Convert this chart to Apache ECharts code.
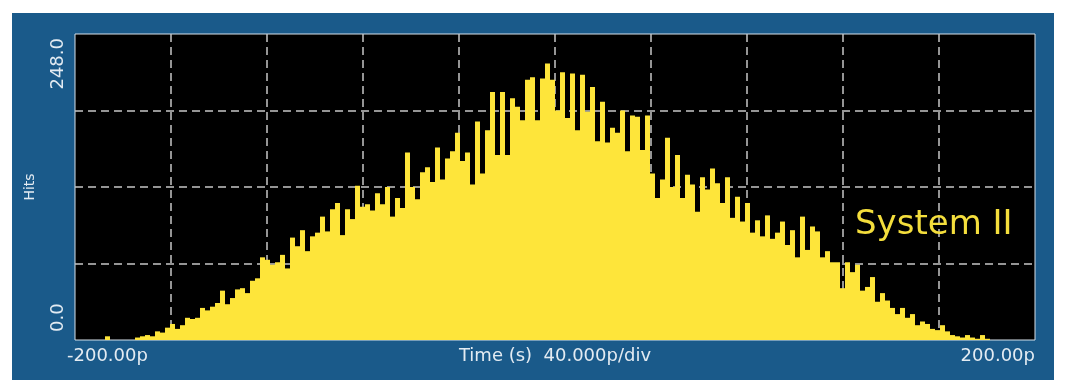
<!DOCTYPE html>
<html><head><meta charset="utf-8">
<script src="https://cdn.jsdelivr.net/npm/echarts@6/dist/echarts.min.js"></script>
<style>
html,body{margin:0;padding:0;background:#fff;width:1065px;height:390px;overflow:hidden;}
#panel{position:absolute;left:12px;top:13px;width:1042px;height:367px;background:#1a5a8a;}
#chart{width:1042px;height:367px;}
</style></head><body><div id="panel"><div id="chart"></div></div>
<script>
// Histogram hit counts, one per time bin (192 bins across -200p .. 200p)
const hits = [
  0,0,0,0,0,0,3,0,0,0,
  0,0,2,3,4,3,7,6,10,13,
  9,12,18,17,18,26,24,27,30,40,
  29,34,41,42,38,48,50,67,65,61,
  63,69,58,83,76,89,72,84,87,100,
  88,106,111,85,106,98,125,108,110,105,
  119,110,124,100,115,107,152,124,114,136,
  140,128,156,130,147,153,168,145,152,126,
  177,135,170,201,150,201,150,196,189,178,
  211,213,178,212,224,211,186,217,180,216,
  170,215,185,205,161,193,160,172,168,186,
  153,182,181,154,182,135,115,130,164,124,
  150,115,134,126,104,132,122,139,127,111,
  132,99,116,96,111,87,97,84,101,82,
  87,96,77,89,67,100,73,92,88,67,
  72,63,63,42,63,55,61,40,43,51,
  31,38,32,26,21,26,18,21,12,15,
  13,9,8,12,7,4,3,2,4,2,
  1,4,1,0,0,0,0,0,0,0,
  0,0
];
const bins = hits.map((_, i) => String(i));
const xMin = -200, xMax = 200, xStep = 40;
const yMin = 0, yMax = 248, yStep = 62;
const xTickLabels = { '-200': '-200.00p', '200': '200.00p' };
const yTickLabels = { '0': '0.0', '248': '248.0' };
const xAxisTitle = 'Time (s)  40.000p/div';
const yAxisTitle = 'Hits';
const annotation = 'System II';

const txt = '#e3ebf2';
const font = '"DejaVu Sans", Verdana, sans-serif';
const grid = { color: '#c6c6c6', type: [8, 5], width: 1.5 };

const chart = echarts.init(document.getElementById('chart'), null, { renderer: 'canvas' });
chart.setOption({
  animation: false,
  backgroundColor: 'transparent',
  grid: { left: 63, top: 21, width: 960, height: 306, show: true,
          outerBoundsMode: 'none', containLabel: false,
          backgroundColor: '#000', borderColor: '#d6e1ea', borderWidth: 1 },
  xAxis: [
    { type: 'category', data: bins, position: 'top', boundaryGap: true, show: false },
    { type: 'value', min: xMin, max: xMax, interval: xStep, position: 'bottom',
      axisLine: { show: false }, axisTick: { show: false },
      splitLine: { show: true, showMinLine: false, showMaxLine: false, lineStyle: grid },
      axisLabel: { color: txt, fontSize: 18, fontFamily: font, margin: 7,
        padding: [0, 0, 0, -8],
        showMinLabel: true, showMaxLabel: true, alignMinLabel: 'left', alignMaxLabel: 'right',
        formatter: v => xTickLabels[String(v)] || '' },
      name: xAxisTitle, nameLocation: 'middle', nameGap: 7, nameMoveOverlap: false,
      nameTextStyle: { color: txt, fontSize: 18, fontFamily: font, verticalAlign: 'top' } }
  ],
  yAxis: {
    type: 'value', min: yMin, max: yMax, interval: yStep,
    axisLine: { show: false }, axisTick: { show: false },
    splitLine: { show: true, showMinLine: false, showMaxLine: false, lineStyle: grid },
    axisLabel: { rotate: 90, margin: 8, color: txt, fontSize: 18, fontFamily: font,
      padding: [0, 4, 0, 8],
      showMinLabel: true, showMaxLabel: true, alignMinLabel: 'left', alignMaxLabel: 'right',
      formatter: v => yTickLabels[String(v)] || '' },
    name: yAxisTitle, nameLocation: 'middle', nameRotate: 90, nameGap: 38, nameMoveOverlap: false,
    nameTextStyle: { color: txt, fontSize: 14, fontFamily: font }
  },
  series: [{
    type: 'bar', xAxisIndex: 0, yAxisIndex: 0, data: hits,
    barCategoryGap: '0%', barGap: '0%',
    itemStyle: { color: '#fee53a' }, emphasis: { disabled: true }
  }],
  graphic: [{
    type: 'text', left: 843, top: 195, z: 10,
    style: { text: annotation, fill: '#f4de3c', font: '34px ' + font }
  }]
});
</script></body></html>
